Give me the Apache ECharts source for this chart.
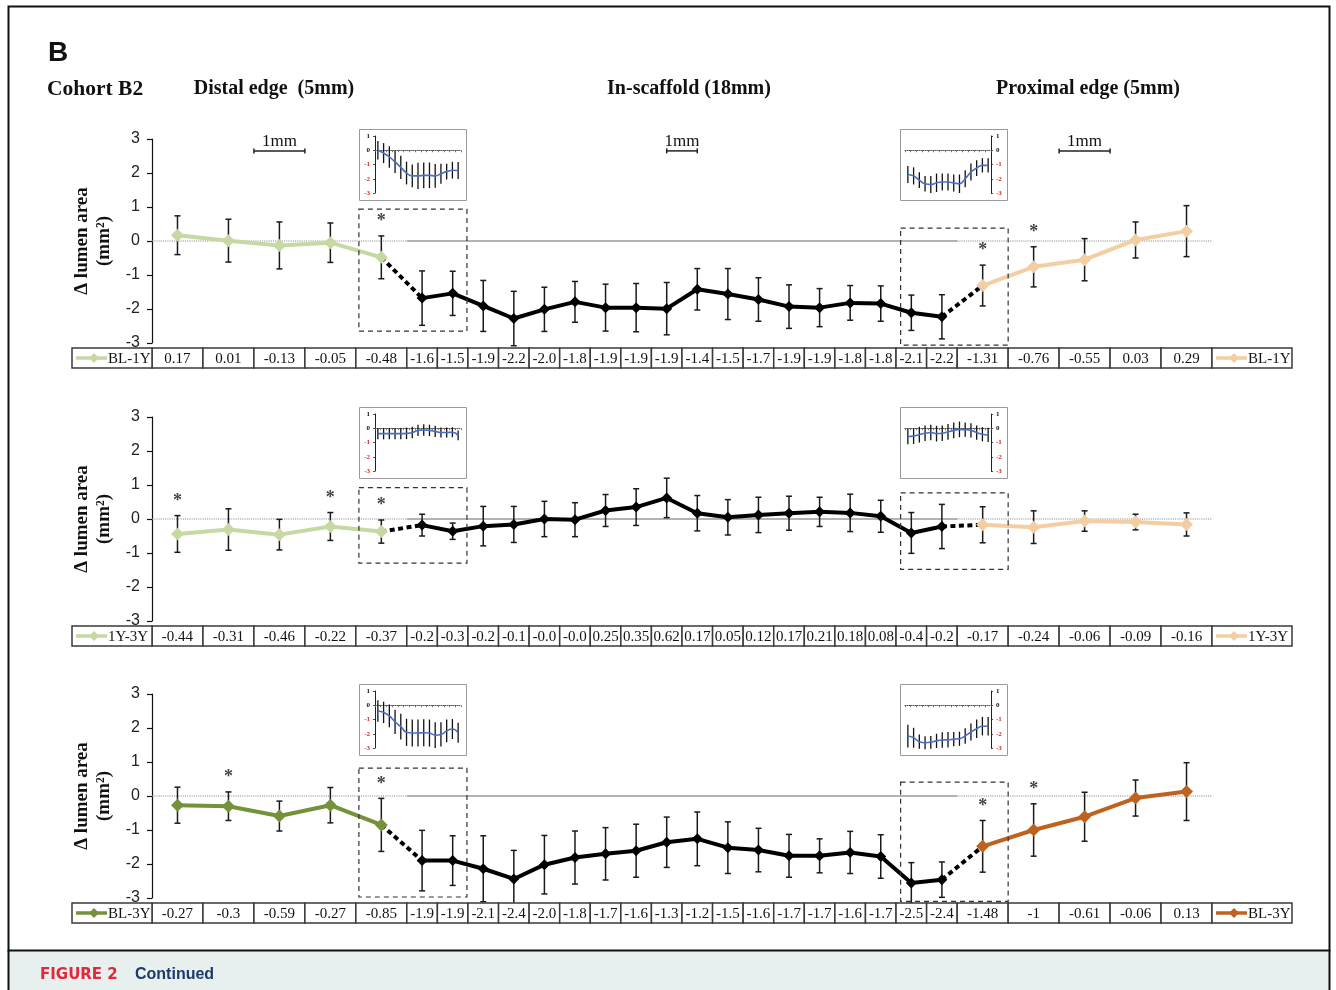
<!DOCTYPE html>
<html><head><meta charset="utf-8">
<script src="https://cdn.jsdelivr.net/npm/echarts@6/dist/echarts.min.js"></script>
<style>html,body{margin:0;padding:0;background:#fff}#c{width:1336px;height:990px}</style>
</head><body><div id="c"></div>
<script>
// ================= DATA =================
// Panel 1: BL-1Y
const distalMean1   = [0.17, 0.01, -0.13, -0.05, -0.48];
const distalSd1     = [0.57, 0.63, 0.69, 0.58, 0.63];
const scaffoldMean1 = [-1.68, -1.54, -1.91, -2.28, -2.01, -1.79, -1.96, -1.96, -1.99, -1.42, -1.56, -1.72, -1.93, -1.96, -1.82, -1.84, -2.11, -2.23];
const scaffoldSd1   = [0.80, 0.65, 0.75, 0.80, 0.65, 0.60, 0.69, 0.71, 0.77, 0.61, 0.75, 0.64, 0.64, 0.56, 0.51, 0.52, 0.52, 0.65];
const proximalMean1 = [-1.31, -0.76, -0.55, 0.03, 0.29];
const proximalSd1   = [0.60, 0.59, 0.62, 0.53, 0.75];
const tableLabels1  = ['0.17','0.01','-0.13','-0.05','-0.48','-1.6','-1.5','-1.9','-2.2','-2.0','-1.8','-1.9','-1.9','-1.9','-1.4','-1.5','-1.7','-1.9','-1.9','-1.8','-1.8','-2.1','-2.2','-1.31','-0.76','-0.55','0.03','0.29'];
const sigIdx1       = [4, 23, 24];
const boxY1         = [[0.94, -2.65], [0.38, -3.06]];
const insetL1       = [0.0, -0.2, -0.47, -0.82, -1.2, -1.6, -1.8, -1.8, -1.76, -1.76, -1.8, -1.65, -1.5, -1.4, -1.42];
const insetL1Sd     = [0.65, 0.7, 0.75, 0.78, 0.82, 0.8, 0.8, 0.92, 0.9, 0.9, 0.83, 0.7, 0.55, 0.59, 0.6];
const insetR1       = [-1.7, -1.8, -2.1, -2.35, -2.4, -2.28, -2.23, -2.23, -2.3, -2.35, -2.0, -1.53, -1.25, -1.06, -1.06];
const insetR1Sd     = [0.6, 0.6, 0.55, 0.55, 0.6, 0.65, 0.6, 0.6, 0.6, 0.65, 0.6, 0.6, 0.55, 0.5, 0.5];

// Panel 2: 1Y-3Y
const distalMean2   = [-0.44, -0.31, -0.46, -0.22, -0.37];
const distalSd2     = [0.54, 0.61, 0.45, 0.41, 0.34];
const scaffoldMean2 = [-0.18, -0.36, -0.21, -0.16, 0.0, -0.02, 0.25, 0.35, 0.62, 0.17, 0.05, 0.12, 0.17, 0.21, 0.18, 0.08, -0.41, -0.22];
const scaffoldSd2   = [0.32, 0.24, 0.58, 0.53, 0.52, 0.50, 0.47, 0.54, 0.58, 0.52, 0.52, 0.52, 0.50, 0.43, 0.55, 0.47, 0.60, 0.65];
const proximalMean2 = [-0.17, -0.24, -0.06, -0.09, -0.16];
const proximalSd2   = [0.53, 0.48, 0.30, 0.23, 0.34];
const tableLabels2  = ['-0.44','-0.31','-0.46','-0.22','-0.37','-0.2','-0.3','-0.2','-0.1','-0.0','-0.0','0.25','0.35','0.62','0.17','0.05','0.12','0.17','0.21','0.18','0.08','-0.4','-0.2','-0.17','-0.24','-0.06','-0.09','-0.16'];
const sigIdx2       = [0, 3, 4];
const boxY2         = [[0.92, -1.30], [0.77, -1.48]];
const insetL2       = [-0.38, -0.38, -0.38, -0.38, -0.38, -0.36, -0.3, -0.15, -0.12, -0.15, -0.22, -0.3, -0.3, -0.28, -0.5];
const insetL2Sd     = [0.4, 0.4, 0.4, 0.4, 0.4, 0.4, 0.4, 0.4, 0.4, 0.4, 0.4, 0.35, 0.35, 0.35, 0.35];
const insetR2       = [-0.58, -0.55, -0.45, -0.35, -0.3, -0.38, -0.35, -0.25, -0.15, -0.08, -0.1, -0.15, -0.3, -0.42, -0.47];
const insetR2Sd     = [0.55, 0.55, 0.55, 0.55, 0.55, 0.55, 0.55, 0.55, 0.55, 0.55, 0.5, 0.5, 0.5, 0.5, 0.5];

// Panel 3: BL-3Y
const distalMean3   = [-0.27, -0.3, -0.59, -0.27, -0.85];
const distalSd3     = [0.53, 0.42, 0.44, 0.52, 0.78];
const scaffoldMean3 = [-1.90, -1.90, -2.14, -2.44, -2.02, -1.81, -1.70, -1.61, -1.36, -1.26, -1.52, -1.59, -1.76, -1.76, -1.66, -1.78, -2.56, -2.46];
const scaffoldSd3   = [0.89, 0.73, 0.97, 0.84, 0.86, 0.78, 0.77, 0.78, 0.74, 0.79, 0.76, 0.64, 0.63, 0.50, 0.62, 0.64, 0.60, 0.52];
const proximalMean3 = [-1.48, -1.0, -0.61, -0.06, 0.13];
const proximalSd3   = [0.76, 0.77, 0.72, 0.53, 0.85];
const tableLabels3  = ['-0.27','-0.3','-0.59','-0.27','-0.85','-1.9','-1.9','-2.1','-2.4','-2.0','-1.8','-1.7','-1.6','-1.3','-1.2','-1.5','-1.6','-1.7','-1.7','-1.6','-1.7','-2.5','-2.4','-1.48','-1','-0.61','-0.06','0.13'];
const sigIdx3       = [1, 4, 23, 24];
const boxY3         = [[0.82, -2.97], [0.41, -3.1]];
const insetL3       = [-0.4, -0.5, -0.74, -1.16, -1.5, -1.9, -1.95, -1.95, -1.93, -1.95, -2.1, -2.05, -1.8, -1.67, -1.93];
const insetL3Sd     = [0.75, 0.75, 0.8, 0.85, 0.9, 0.95, 0.95, 0.95, 0.95, 0.95, 0.9, 0.85, 0.8, 0.7, 0.7];
const insetR3       = [-2.16, -2.28, -2.56, -2.63, -2.6, -2.5, -2.44, -2.42, -2.38, -2.35, -2.16, -1.88, -1.65, -1.47, -1.47];
const insetR3Sd     = [0.8, 0.7, 0.5, 0.45, 0.45, 0.5, 0.55, 0.55, 0.5, 0.5, 0.55, 0.6, 0.65, 0.65, 0.65];

const yTicks = [-3, -2, -1, 0, 1, 2, 3];
const segmentTitles = ['Distal edge  (5mm)', 'In-scaffold (18mm)', 'Proximal edge (5mm)'];

// ================= LAYOUT / STYLE =================
const FONT_SERIF = '"Liberation Serif","Times New Roman",serif';
const FONT_SANS = '"Liberation Sans",Arial,sans-serif';
const N_EDGE = 5, N_SCAF = 18, W_EDGE = 1, W_SCAF = 0.6;
const X_MAX = 2 * N_EDGE * W_EDGE + N_SCAF * W_SCAF;
const PANEL_TOP = [139, 417, 694];
const PLOT_LEFT = 152, PLOT_W = 1060, PLOT_H = 204;
const UNIT_PX = PLOT_W / X_MAX;
const LEG_W = 80 / UNIT_PX;
const BOX_X = [[4.06, 6.18], [14.69, 16.8]];
const SCALE_BARS = [[2, 3], [10.1, 10.7], [17.8, 18.8]];
const SCALE_Y = 2.65;
const COL_LG = '#c6d9a3', COL_PEACH = '#f2cea2', COL_OLIVE = '#74923a', COL_RUST = '#c0621f';

function cellStart(i) {
  if (i < N_EDGE) return i * W_EDGE;
  if (i < N_EDGE + N_SCAF) return N_EDGE * W_EDGE + (i - N_EDGE) * W_SCAF;
  return N_EDGE * W_EDGE + N_SCAF * W_SCAF + (i - N_EDGE - N_SCAF) * W_EDGE;
}
function cellWidth(i) { return (i < N_EDGE || i >= N_EDGE + N_SCAF) ? W_EDGE : W_SCAF; }
function xCenter(i) { return cellStart(i) + cellWidth(i) / 2; }

const panels = [
  { name: 'BL-1Y', distal: distalMean1, distalSd: distalSd1, scaffold: scaffoldMean1, scaffoldSd: scaffoldSd1, proximal: proximalMean1, proximalSd: proximalSd1, labels: tableLabels1, sig: sigIdx1, boxY: boxY1, inL: insetL1, inLSd: insetL1Sd, inR: insetR1, inRSd: insetR1Sd, colors: [COL_LG, COL_PEACH] },
  { name: '1Y-3Y', distal: distalMean2, distalSd: distalSd2, scaffold: scaffoldMean2, scaffoldSd: scaffoldSd2, proximal: proximalMean2, proximalSd: proximalSd2, labels: tableLabels2, sig: sigIdx2, boxY: boxY2, inL: insetL2, inLSd: insetL2Sd, inR: insetR2, inRSd: insetR2Sd, colors: [COL_LG, COL_PEACH] },
  { name: 'BL-3Y', distal: distalMean3, distalSd: distalSd3, scaffold: scaffoldMean3, scaffoldSd: scaffoldSd3, proximal: proximalMean3, proximalSd: proximalSd3, labels: tableLabels3, sig: sigIdx3, boxY: boxY3, inL: insetL3, inLSd: insetL3Sd, inR: insetR3, inRSd: insetR3Sd, colors: [COL_OLIVE, COL_RUST] }
];

function errRender(cap, lw, color) {
  return function (params, api) {
    const x = api.value(0), m = api.value(1), s = api.value(2);
    const a = api.coord([x, m + s]), b = api.coord([x, m - s]);
    const ch = [{ type: 'line', shape: { x1: a[0], y1: a[1], x2: b[0], y2: b[1] }, style: { stroke: color, lineWidth: lw } }];
    if (cap > 0) {
      ch.push({ type: 'line', shape: { x1: a[0] - cap, y1: a[1], x2: a[0] + cap, y2: a[1] }, style: { stroke: color, lineWidth: lw } });
      ch.push({ type: 'line', shape: { x1: b[0] - cap, y1: b[1], x2: b[0] + cap, y2: b[1] }, style: { stroke: color, lineWidth: lw } });
    }
    return { type: 'group', children: ch };
  };
}
function boxRender(params, api) {
  const a = api.coord([api.value(0), api.value(2)]), b = api.coord([api.value(1), api.value(3)]);
  return { type: 'rect', shape: { x: a[0], y: a[1], width: b[0] - a[0], height: b[1] - a[1] },
    style: { fill: 'none', stroke: '#333', lineWidth: 1.2, lineDash: [5, 4] } };
}
function scaleRender(params, api) {
  const a = api.coord([api.value(0), SCALE_Y]), b = api.coord([api.value(1), SCALE_Y]);
  const st = () => ({ stroke: '#222', lineWidth: 1.5 });
  return { type: 'group', children: [
    { type: 'line', shape: { x1: a[0], y1: a[1], x2: b[0], y2: b[1] }, style: st() },
    { type: 'line', shape: { x1: a[0], y1: a[1] - 2.5, x2: a[0], y2: a[1] + 2.5 }, style: st() },
    { type: 'line', shape: { x1: b[0], y1: b[1] - 2.5, x2: b[0], y2: b[1] + 2.5 }, style: st() },
    { type: 'text', x: (a[0] + b[0]) / 2, y: a[1] - 9, style: { text: '1mm', align: 'center', verticalAlign: 'middle', fontSize: 17, fontFamily: FONT_SERIF, fill: '#111' } }
  ] };
}
function tableRender(P) {
  return function (params, api) {
    const i = api.value(2);
    const a = api.coord([api.value(0), 1]), b = api.coord([api.value(1), 0]);
    const x0 = a[0], y0 = a[1], w = b[0] - a[0], h = b[1] - a[1], cy = y0 + h / 2;
    const ch = [{ type: 'rect', shape: { x: x0, y: y0, width: w, height: h }, style: { fill: '#fff', stroke: '#3a3a3a', lineWidth: 1.5 } }];
    if (i >= 0) {
      ch.push({ type: 'text', x: x0 + w / 2, y: cy + 1, style: { text: P.labels[i], align: 'center', verticalAlign: 'middle', fontSize: 15, fontFamily: FONT_SERIF, fill: '#111' } });
    } else {
      const col = i === -1 ? P.colors[0] : P.colors[1];
      const dx = x0 + 22, d = 5;
      ch.push({ type: 'line', shape: { x1: x0 + 4, y1: cy, x2: x0 + 35, y2: cy }, style: { stroke: col, lineWidth: 3.5 } });
      ch.push({ type: 'polygon', shape: { points: [[dx, cy - d], [dx + d, cy], [dx, cy + d], [dx - d, cy]] }, style: { fill: col } });
      ch.push({ type: 'text', x: x0 + 36, y: cy + 1, style: { text: P.name, align: 'left', verticalAlign: 'middle', fontSize: 15, fontFamily: FONT_SERIF, fill: '#111' } });
    }
    return { type: 'group', children: ch };
  };
}

const grid = [], xAxis = [], yAxis = [], series = [];
const graphicEls = [];

// frame + caption band
graphicEls.push({ type: 'rect', shape: { x: 9, y: 951, width: 1321, height: 39 }, style: { fill: '#e7efef' }, z: 0 });
graphicEls.push({ type: 'rect', shape: { x: 8.5, y: 6.5, width: 1321, height: 944 }, style: { fill: 'none', stroke: '#111', lineWidth: 2 } });
graphicEls.push({ type: 'line', shape: { x1: 8.5, y1: 950, x2: 8.5, y2: 990 }, style: { stroke: '#111', lineWidth: 2 } });
graphicEls.push({ type: 'line', shape: { x1: 1329.5, y1: 950, x2: 1329.5, y2: 990 }, style: { stroke: '#111', lineWidth: 2 } });
graphicEls.push({ type: 'text', x: 48, y: 53, style: { text: 'B', fontSize: 28, fontWeight: 'bold', fontFamily: FONT_SANS, fill: '#111', verticalAlign: 'middle' } });
graphicEls.push({ type: 'text', x: 47, y: 89, style: { text: 'Cohort B2', fontSize: 21.5, fontWeight: 'bold', fontFamily: FONT_SERIF, fill: '#111', verticalAlign: 'middle' } });
[274, 689, 1088].forEach((cx, k) => graphicEls.push({ type: 'text', x: cx, y: 89, style: { text: segmentTitles[k], fontSize: 20, fontWeight: 'bold', fontFamily: FONT_SERIF, fill: '#111', align: 'center', verticalAlign: 'middle' } }));
graphicEls.push({ type: 'text', x: 40, y: 975, style: { text: 'FIGURE 2', fontSize: 15, fontWeight: 'bold', fontFamily: '"DejaVu Sans",sans-serif', fill: '#e2283c', verticalAlign: 'middle' } });
graphicEls.push({ type: 'text', x: 135, y: 975, style: { text: 'Continued', fontSize: 16, fontWeight: 'bold', fontFamily: FONT_SANS, fill: '#1b3a6b', verticalAlign: 'middle' } });

panels.forEach((P, p) => {
  const T = PANEL_TOP[p];
  const mean = P.distal.concat(P.scaffold, P.proximal);
  const sd = P.distalSd.concat(P.scaffoldSd, P.proximalSd);
  const pts = mean.map((m, i) => [xCenter(i), m]);
  const iEndD = N_EDGE - 1, iStartP = N_EDGE + N_SCAF;

  // main plot grid (index p)
  grid[p] = { left: PLOT_LEFT, top: T, width: PLOT_W, height: PLOT_H };
  xAxis[p] = { type: 'value', gridIndex: p, min: 0, max: X_MAX, show: false };
  yAxis[p] = { type: 'value', gridIndex: p, min: yTicks[0], max: yTicks[yTicks.length - 1], interval: 1,
    axisLine: { show: true, lineStyle: { color: '#111', width: 1.2 } },
    axisTick: { show: true, length: 5, lineStyle: { color: '#111', width: 1.2 } },
    axisLabel: { fontSize: 16, fontFamily: FONT_SANS, color: '#222', margin: 12 },
    splitLine: { show: false },
    name: 'Δ lumen area\n(mm²)', nameLocation: 'middle', nameRotate: 90, nameGap: 37,
    nameTextStyle: { fontSize: 19, fontWeight: 'bold', fontFamily: FONT_SERIF, color: '#111', lineHeight: 22 } };

  // table grid (index 3+p)
  const tg = 3 + p;
  grid[tg] = { left: PLOT_LEFT, top: T + 209, width: PLOT_W, height: 20 };
  xAxis[tg] = { type: 'value', gridIndex: tg, min: 0, max: X_MAX, show: false };
  yAxis[tg] = { type: 'value', gridIndex: tg, min: 0, max: 1, show: false };

  const ax = { xAxisIndex: p, yAxisIndex: p };
  // zero lines
  const edgeD = N_EDGE * W_EDGE, edgeP = X_MAX - N_EDGE * W_EDGE;
  [[[0, 0], [edgeD, 0], 'dotted'], [[edgeD, 0], [edgeP, 0], 'solid'], [[edgeP, 0], [X_MAX, 0], 'dotted']].forEach(z =>
    series.push(Object.assign({ type: 'line', data: [z[0], z[1]], symbol: 'none', silent: true, z: 1,
      lineStyle: { color: z[2] === 'solid' ? '#9a9a9a' : '#8a8a8a', width: z[2] === 'solid' ? 1.4 : 1.1, type: z[2] } }, ax)));
  // error bars
  series.push(Object.assign({ type: 'custom', z: 2, silent: true, data: mean.map((m, i) => [xCenter(i), m, sd[i]]), renderItem: errRender(3, 1.5, '#1a1a1a') }, ax));
  // dotted connectors
  [[pts[iEndD], pts[iEndD + 1]], [pts[iStartP - 1], pts[iStartP]]].forEach(seg =>
    series.push(Object.assign({ type: 'line', data: seg, symbol: 'none', silent: true, z: 3,
      lineStyle: { color: '#000', width: 4, type: [5, 3.5] } }, ax)));
  // main lines
  series.push(Object.assign({ type: 'line', name: P.name + ' distal', data: pts.slice(0, N_EDGE), symbol: 'diamond', symbolSize: 13, z: 4,
    itemStyle: { color: P.colors[0] }, lineStyle: { color: P.colors[0], width: 4 } }, ax));
  series.push(Object.assign({ type: 'line', name: P.name + ' scaffold', data: pts.slice(N_EDGE, iStartP), symbol: 'diamond', symbolSize: 11, z: 4,
    itemStyle: { color: '#000' }, lineStyle: { color: '#000', width: 4 } }, ax));
  series.push(Object.assign({ type: 'line', name: P.name + ' proximal', data: pts.slice(iStartP), symbol: 'diamond', symbolSize: 13, z: 4,
    itemStyle: { color: P.colors[1] }, lineStyle: { color: P.colors[1], width: 4 } }, ax));
  // significance asterisks
  series.push(Object.assign({ type: 'scatter', data: P.sig.map(i => [xCenter(i), mean[i] + sd[i]]), symbol: 'circle', symbolSize: 1, z: 5,
    itemStyle: { color: 'rgba(0,0,0,0)' },
    label: { show: true, formatter: '*', position: 'top', distance: 5, fontSize: 18, fontFamily: FONT_SERIF, fontWeight: 'bold', color: '#111' } }, ax));
  // dashed highlight boxes
  series.push(Object.assign({ type: 'custom', z: 5, silent: true, data: BOX_X.map((bx, k) => [bx[0], bx[1], P.boxY[k][0], P.boxY[k][1]]), renderItem: boxRender }, ax));
  if (p === 0) {
    series.push(Object.assign({ type: 'custom', z: 5, silent: true, data: SCALE_BARS, renderItem: scaleRender }, ax));
  }
  // table
  const tdata = P.labels.map((s, i) => [cellStart(i), cellStart(i) + cellWidth(i), i]);
  tdata.push([-LEG_W, 0, -1]);
  tdata.push([X_MAX, X_MAX + LEG_W, -2]);
  series.push({ type: 'custom', xAxisIndex: tg, yAxisIndex: tg, z: 6, silent: true, data: tdata, renderItem: tableRender(P) });

  // insets
  [[P.inL, P.inLSd, 375, 359.5, 'left'], [P.inR, P.inRSd, 905, 900.5, 'right']].forEach((cfg, k) => {
    const ig = 6 + p * 2 + k;
    grid[ig] = { left: cfg[2], top: T - 3, width: 86, height: 57 };
    xAxis[ig] = { type: 'value', gridIndex: ig, min: -0.5, max: cfg[0].length - 0.5, interval: 1,
      axisLine: { onZero: true, lineStyle: { color: '#555', width: 1, type: 'dotted' } },
      axisTick: { show: true, length: 2, lineStyle: { color: '#555', width: 0.8 } },
      axisLabel: { show: false }, splitLine: { show: false } };
    yAxis[ig] = { type: 'value', gridIndex: ig, min: -3, max: 1, interval: 1, position: cfg[4],
      axisLine: { show: true, onZero: false, lineStyle: { color: '#222', width: 1 } },
      axisTick: { show: true, length: 2, lineStyle: { color: '#222', width: 0.8 } },
      axisLabel: { margin: 5, formatter: v => v < 0 ? '{r|' + v + '}' : '{k|' + v + '}',
        rich: { r: { fontSize: 7, fontWeight: 'bold', fontFamily: FONT_SERIF, color: '#e0201e' }, k: { fontSize: 7, fontWeight: 'bold', fontFamily: FONT_SERIF, color: '#111' } } },
      splitLine: { show: false } };
    series.push({ type: 'custom', xAxisIndex: ig, yAxisIndex: ig, z: 2, silent: true,
      data: cfg[0].map((v, i) => [i, v, cfg[1][i]]), renderItem: errRender(0, 1.3, '#111') });
    series.push({ type: 'line', xAxisIndex: ig, yAxisIndex: ig, z: 3, silent: true, smooth: true, symbol: 'none',
      data: cfg[0].map((v, i) => [i, v]), lineStyle: { color: '#4a6fc2', width: 1.6 } });
    graphicEls.push({ type: 'rect', shape: { x: cfg[3], y: T - 9.5, width: 107, height: 71 }, style: { fill: 'none', stroke: '#9a9a9a', lineWidth: 1 } });
  });
});

const chart = echarts.init(document.getElementById('c'), null, { renderer: 'canvas' });
chart.setOption({
  animation: false,
  backgroundColor: '#fff',
  grid, xAxis, yAxis, series,
  graphic: { elements: graphicEls }
});
</script>
</body></html>
